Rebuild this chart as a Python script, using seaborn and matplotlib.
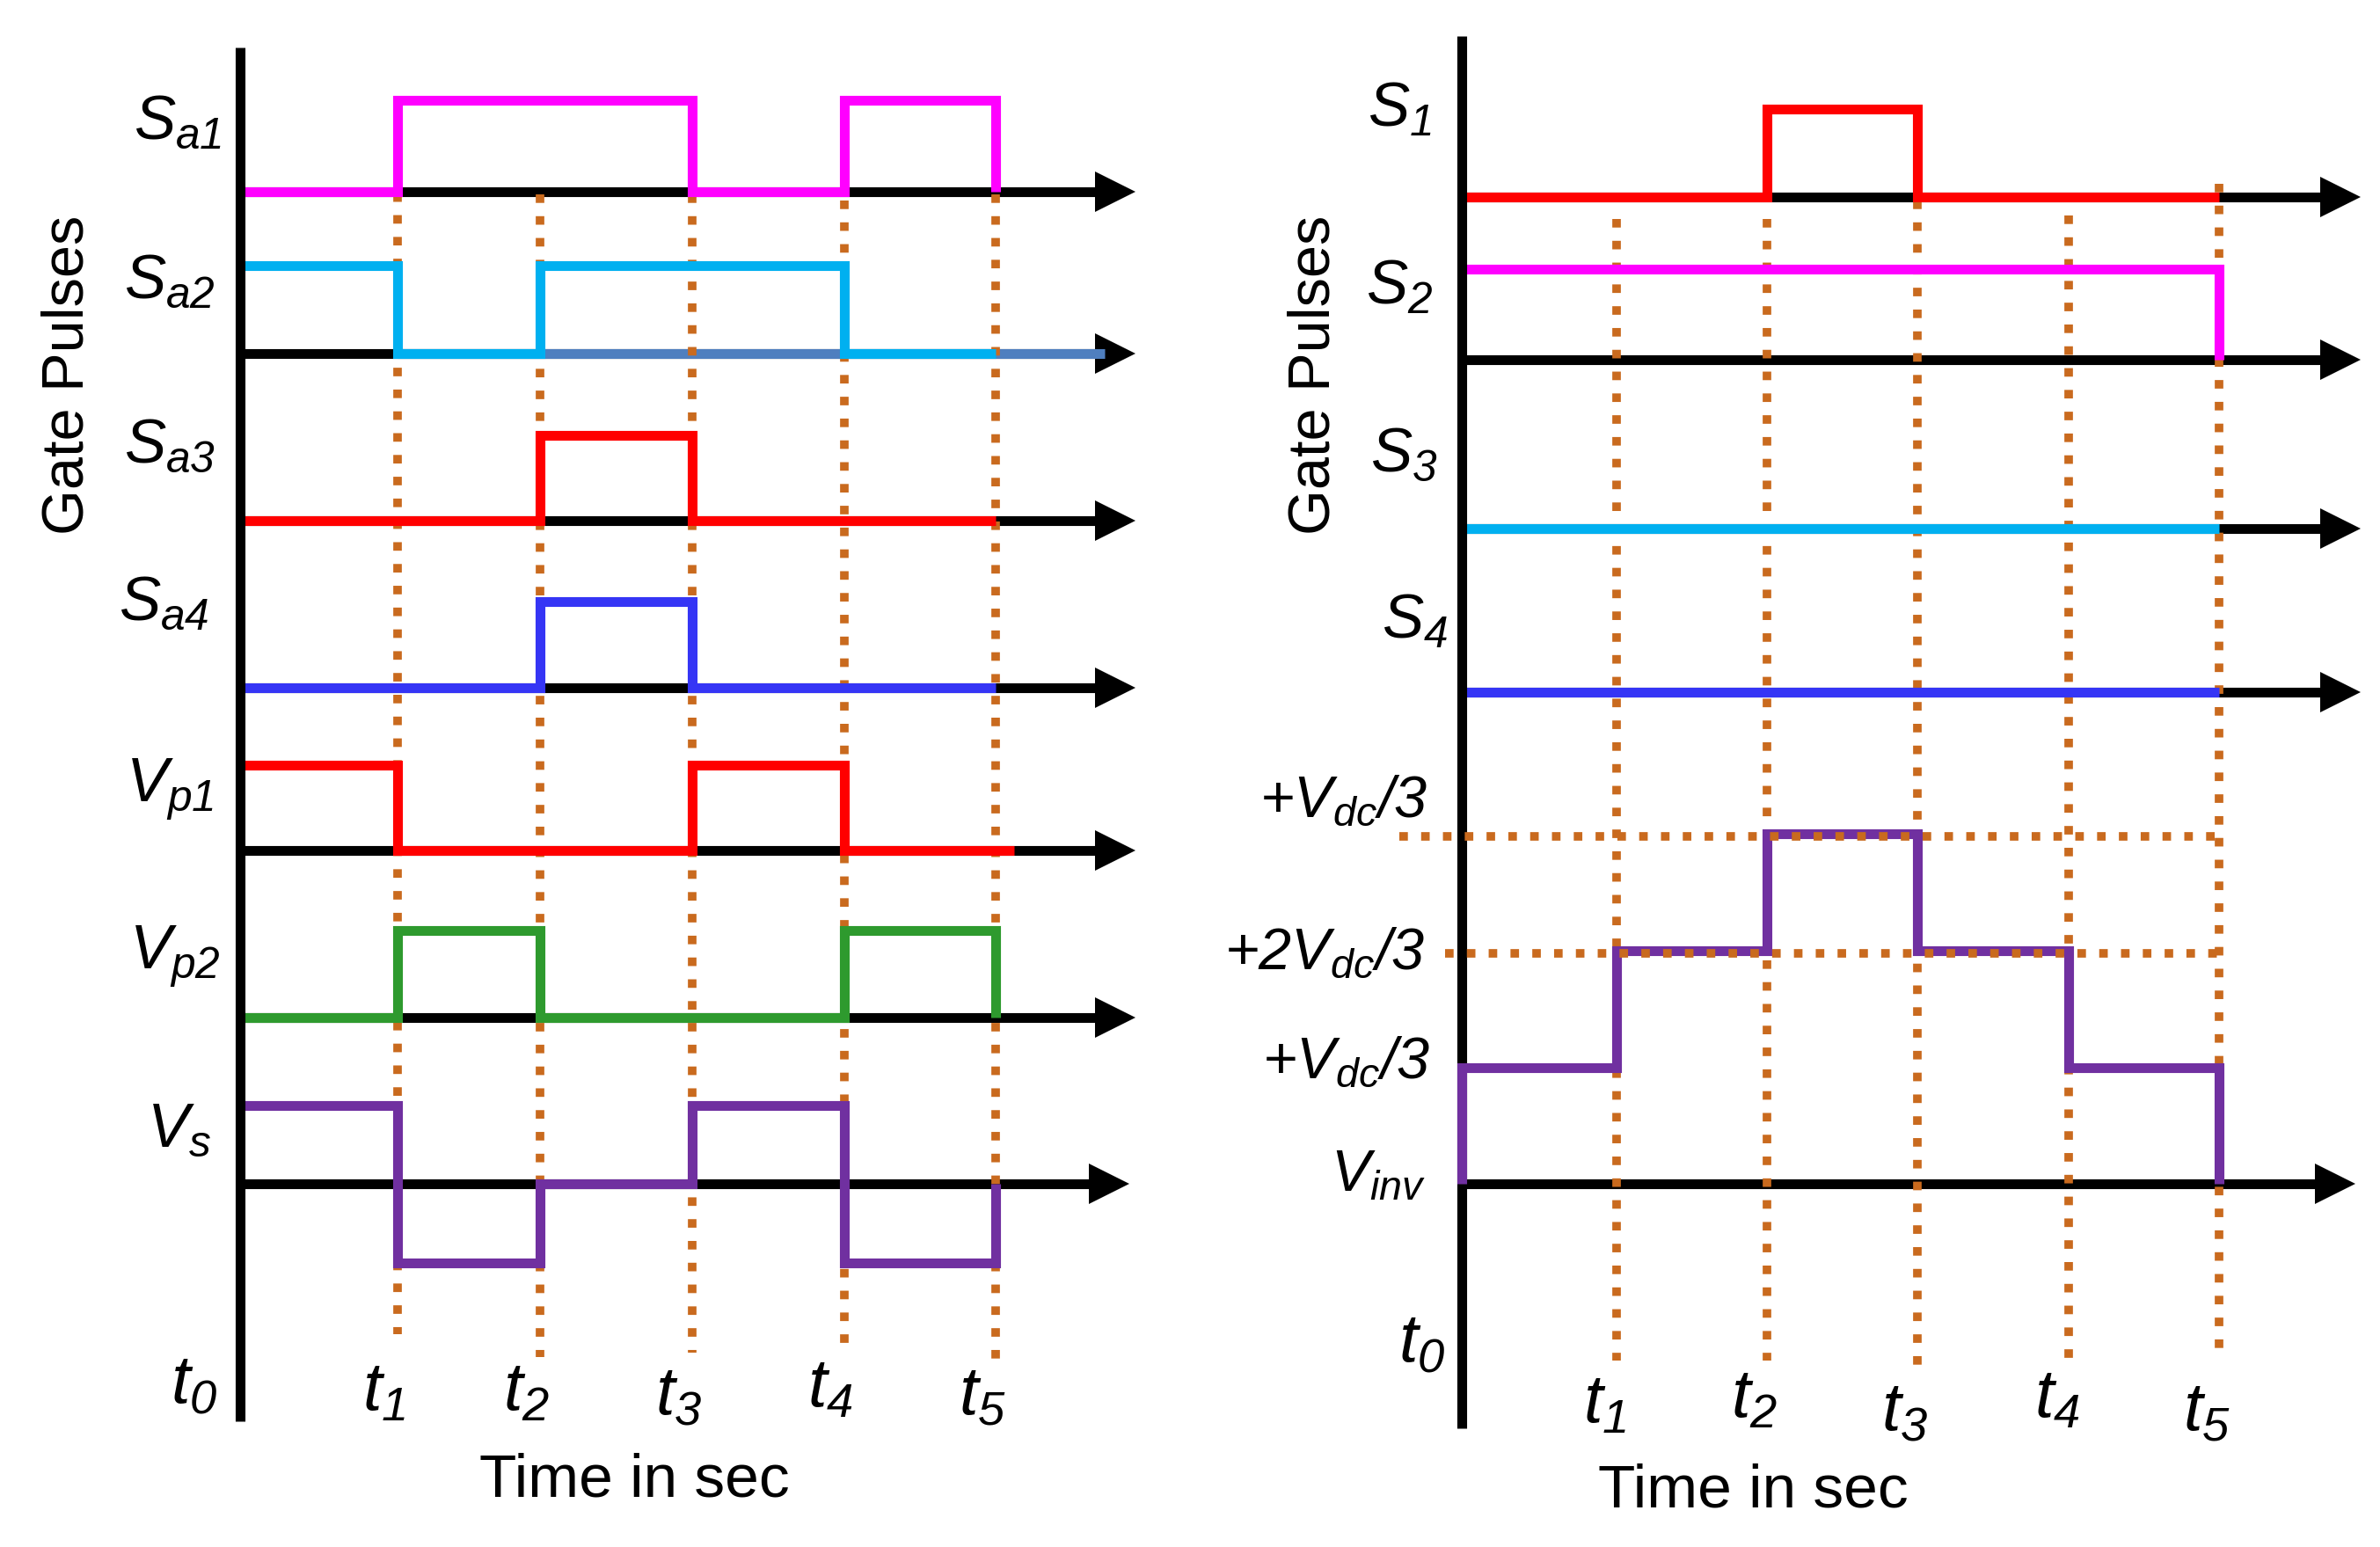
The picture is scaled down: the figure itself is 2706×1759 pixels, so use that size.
import matplotlib
matplotlib.use("Agg")
import matplotlib.pyplot as plt
import matplotlib.transforms as mtrans
import numpy as np
import pandas as pd
import seaborn as sns

# ---------------- data ----------------
# switching instants t0..t5 (left and right diagrams)
t_left = [0.0, 1.04, 1.98, 2.98, 3.98, 4.98]
t_right = [0.0, 1.02, 2.01, 3.00, 4.00, 4.99]
t_names = ["0", "1", "2", "3", "4", "5"]

# left diagram: state in each interval (last value = state after t5)
sa1 = [0, 1, 1, 0, 1, 0]
sa2 = [1, 0, 1, 1, 0, 0]
sa3 = [0, 0, 1, 0, 0, 0]
sa4 = [0, 0, 1, 0, 0, 0]
vp1 = [1, 0, 0, 1, 0, 0]
vp2 = [0, 1, 0, 0, 1, 0]
vs = [1, -1, 0, 1, -1, 0]
left_names = ["a1", "a2", "a3", "a4", "p1", "p2", "s"]
left_letters = ["S", "S", "S", "S", "V", "V", "V"]

# right diagram
s1 = [0, 0, 1, 0, 0, 0]
s2 = [1, 1, 1, 1, 1, 0]
s3 = [0, 0, 0, 0, 0, 0]
s4 = [0, 0, 0, 0, 0, 0]
vinv = [0, 1, 2, 3, 2, 1, 0]          # starts at 0 at t0, levels in Vdc/3 steps
right_names = ["1", "2", "3", "4"]
level_labels = [r"$+V_{dc}/3$", r"$+2V_{dc}/3$", r"$+V_{dc}/3$"]

# ---------------- style ----------------
sns.set_theme(style="white")
FAM = "Liberation Sans"
plt.rcParams["font.family"] = [FAM, "DejaVu Sans"]
plt.rcParams["text.color"] = "black"
plt.rcParams["mathtext.fontset"] = "custom"
plt.rcParams["mathtext.rm"] = f"{FAM}:italic"
plt.rcParams["mathtext.it"] = f"{FAM}:italic"
plt.rcParams["mathtext.sf"] = f"{FAM}:italic"
plt.rcParams["mathtext.bf"] = f"{FAM}:italic:bold"

MAGENTA = "#FF00FF"
CYAN = "#00B0F0"
RED = "#FF0000"
BLUE = "#3535F5"
GREEN = "#2E9A2E"
PURPLE = "#7030A0"
STEEL = "#4F7FBF"
DOT = "#C96A1E"

LW = 8.0
HEAD = 33.0
DOT_LW = 7.0

FS_SIG = 51
FS_T = 56
FS_LVL = 48
FS_AX = 50
FS_GP = 48

fig = plt.figure(figsize=(27.06, 17.59), dpi=100)
axL = fig.add_axes([0.0, 0.0, 0.5, 1.0])
axR = fig.add_axes([0.5, 0.0, 0.5, 1.0])


def signal(ax, t, states, base, amp, color, extend=None, z=3):
    x = list(t)
    y = [base - amp * s for s in states]
    if extend is not None:
        x.append(extend)
        y.append(y[-1])
    df = pd.DataFrame({"x": x, "y": y})
    sns.lineplot(data=df, x="x", y="y", ax=ax, color=color, lw=LW,
                 drawstyle="steps-post", estimator=None, sort=False,
                 legend=False, zorder=z, solid_joinstyle="miter",
                 solid_capstyle="butt")


def arrow(ax, y, tip, color="black", start=0.0):
    ax.plot([start, tip - 0.15], [y, y], color=color, lw=LW,
            solid_capstyle="butt", zorder=2)
    tr = ax.transData + mtrans.ScaledTranslation(-HEAD / 2 / 72, 0,
                                                 fig.dpi_scale_trans)
    ax.plot([tip], [y], marker=">", ms=HEAD, color="black", mew=0,
            transform=tr, zorder=2)


def dotted_v(ax, x, top, bottom):
    ax.plot([x, x], [top, bottom], color=DOT, lw=DOT_LW,
            linestyle=(0, (1.0, 1.55)), dash_capstyle="butt", zorder=2.6)


# ---------------- left diagram ----------------
left_base = [1.26, 2.33, 3.43, 4.53, 5.60, 6.70, 7.80]
left_amp = [0.60, 0.58, 0.56, 0.57, 0.56, 0.57, 0.52]
left_tip = [5.90, 5.90, 5.90, 5.90, 5.90, 5.90, 5.86]
left_sig = [sa1, sa2, sa3, sa4, vp1, vp2, vs]
left_col = [MAGENTA, CYAN, RED, BLUE, RED, GREEN, PURPLE]
left_ext = [None, None, None, None, 5.10, None, None]

for b, tip in zip(left_base, left_tip):
    arrow(axL, b, tip)
# Sa2 axis drawn in steel blue after t1
axL.plot([t_left[1], left_tip[1] - 0.2], [left_base[1]] * 2, color=STEEL,
         lw=LW, solid_capstyle="butt", zorder=2.2)

for sig, b, a, c, e in zip(left_sig, left_base, left_amp, left_col, left_ext):
    signal(axL, t_left, sig, b, a, c, extend=e)

axL.plot([0, 0], [0.31, 9.36], color="black", lw=LW, solid_capstyle="butt",
         zorder=3.5)

left_top = [1.13, 1.28, 1.28, 1.32, 1.28]
left_bot = [8.79, 8.94, 8.91, 8.87, 8.96]
for x, tp, bt in zip(t_left[1:], left_top, left_bot):
    dotted_v(axL, x, tp, bt)

left_lab_x = [-0.41, -0.46, -0.46, -0.50, -0.46, -0.43, -0.40]
left_lab_y = [0.81, 1.86, 2.94, 3.98, 5.20, 6.30, 7.45]
for L, n, x, y in zip(left_letters, left_names, left_lab_x, left_lab_y):
    axL.text(x, y, rf"${L}_{{{n}}}$", fontsize=FS_SIG, ha="center", va="center")

left_t_y = [9.12, 9.17, 9.17, 9.20, 9.15, 9.20]
for i, (tv, n, y) in enumerate(zip(t_left, t_names, left_t_y)):
    x = -0.30 if i == 0 else tv - 0.09
    axL.text(x, y, rf"$t_{{{n}}}$", fontsize=FS_T, ha="center", va="center")

axL.text(2.60, 9.75, "Time in sec", fontsize=FS_AX, ha="center", va="center")
axL.text(-1.13, 2.47, "Gate Pulses", fontsize=FS_GP, ha="center", va="center",
         rotation=90)

axL.set_xlim(-1.58, 6.26)
axL.set_ylim(10.19, 0)
axL.axis("off")

# ---------------- right diagram ----------------
right_base = [1.30, 2.37, 3.48, 4.56]
right_amp = [0.58, 0.60, 0.5, 0.5]
right_sig = [s1, s2, s3, s4]
right_col = [RED, MAGENTA, CYAN, BLUE]
vinv_base = 7.80
vinv_step = 0.77

for b in right_base:
    arrow(axR, b, 5.92)
arrow(axR, vinv_base, 5.89)

for sig, b, a, c in zip(right_sig, right_base, right_amp, right_col):
    signal(axR, t_right, sig, b, a, c)

axR.plot([0, 0], [0.24, 9.41], color="black", lw=LW, solid_capstyle="butt",
         zorder=3.5)

signal(axR, [0.0] + t_right, vinv, vinv_base, vinv_step, PURPLE, z=4)

right_top = [1.44, 1.44, 1.32, 1.42, 1.21]
right_bot = [8.96, 8.96, 9.01, 8.96, 8.89]
for x, tp, bt in zip(t_right[1:], right_top, right_bot):
    dotted_v(axR, x, tp, bt)

# horizontal level guides (levels 3 and 2)
for lev, x0 in zip([3, 2], [-0.41, -0.11]):
    y = vinv_base - lev * vinv_step + 0.02
    axR.plot([x0, t_right[-1]], [y, y], color=DOT, lw=DOT_LW,
             linestyle=(0, (1.0, 1.55)), dash_capstyle="butt", zorder=5)

right_lab_x = [-0.41, -0.41, -0.38, -0.31]
right_lab_y = [0.73, 1.90, 3.00, 4.10]
for n, x, y in zip(right_names, right_lab_x, right_lab_y):
    axR.text(x, y, rf"$S_{{{n}}}$", fontsize=FS_SIG, ha="center", va="center")

lvl_x = [-0.78, -0.90, -0.76]
lvl_y = [5.28, 6.28, 7.00]
for lab, x, y in zip(level_labels, lvl_x, lvl_y):
    axR.text(x, y, lab, fontsize=FS_LVL, ha="center", va="center")
axR.text(-0.55, 7.75, r"$V_{inv}$", fontsize=FS_LVL, ha="center", va="center")

right_t_y = [8.85, 9.25, 9.22, 9.30, 9.22, 9.30]
for i, (tv, n, y) in enumerate(zip(t_right, t_names, right_t_y)):
    x = -0.26 if i == 0 else tv - 0.08
    axR.text(x, y, rf"$t_{{{n}}}$", fontsize=FS_T, ha="center", va="center")

axR.text(1.92, 9.82, "Time in sec", fontsize=FS_AX, ha="center", va="center")
axR.text(-0.97, 2.47, "Gate Pulses", fontsize=FS_GP, ha="center", va="center",
         rotation=90)

axR.set_xlim(-1.79, 6.05)
axR.set_ylim(10.19, 0)
axR.axis("off")

fig.savefig("out.png", dpi=100, facecolor="white")
